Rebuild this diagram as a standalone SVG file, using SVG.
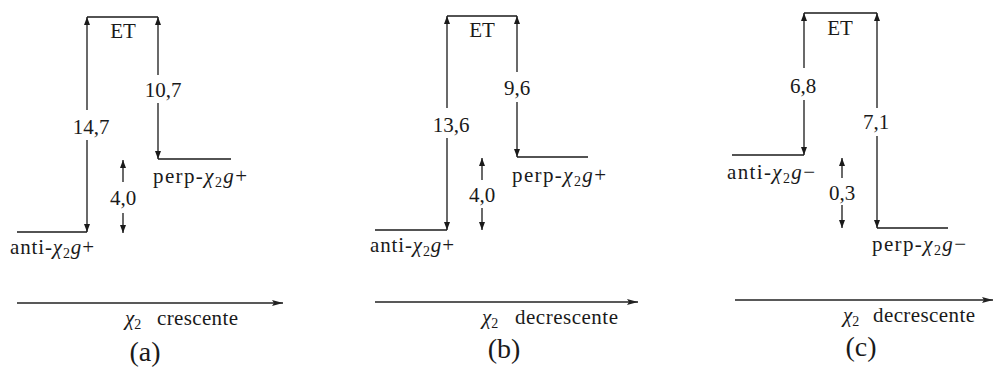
<svg xmlns="http://www.w3.org/2000/svg" width="995" height="367" viewBox="0 0 995 367">
<style>
.ln{stroke:#1a1a1a;stroke-width:1.3;fill:none}
.ar{stroke:#1a1a1a;stroke-width:1.3;fill:none;marker-end:url(#ah)}
.ax{stroke:#222;stroke-width:1.6;fill:none;marker-end:url(#axh)}
.t{font-family:'Liberation Serif','DejaVu Serif',serif;font-size:21px;fill:#1a1a1a}
.m{text-anchor:middle}
.cap{font-size:28px}
.sub{font-size:14px}
.it{font-style:italic}
</style>
<defs>
<marker id="ah" viewBox="0 0 8 6" refX="8" refY="3" markerWidth="8" markerHeight="6" orient="auto" markerUnits="userSpaceOnUse"><path d="M0,0 L8,3 L0,6 z" fill="#1a1a1a"/></marker>
<marker id="axh" viewBox="0 0 11 6" refX="11" refY="3" markerWidth="11" markerHeight="6" orient="auto" markerUnits="userSpaceOnUse"><path d="M0,0 L11,3 L0,6 L2,3 z" fill="#222"/></marker>
</defs>

<!-- Panel (a) -->
<g id="a-ET"><path class="ln" d="M87,17 H158"/><text class="t m" x="123" y="38">ET</text></g>
<g id="a-anti"><path class="ln" d="M17,232 H87"/><text class="t" x="10" y="254" textLength="84" lengthAdjust="spacing">anti-<tspan class="it">χ</tspan><tspan class="sub" dy="4">2</tspan><tspan class="it" dy="-4">g</tspan>+</text></g>
<g id="a-perp"><path class="ln" d="M158,159 H231"/><text class="t" x="153" y="183" textLength="94" lengthAdjust="spacing">perp-<tspan class="it">χ</tspan><tspan class="sub" dy="4">2</tspan><tspan class="it" dy="-4">g</tspan>+</text></g>
<g id="a-connectors">
<path class="ar" d="M87,110 V17"/><path class="ar" d="M87,140 V232"/>
<text class="t m" x="91" y="134">14,7</text>
<path class="ar" d="M158,75 V17"/><path class="ar" d="M158,103 V159"/>
<text class="t m" x="163" y="97">10,7</text>
<path class="ar" d="M123,182 V160"/><path class="ar" d="M123,213 V233"/>
<text class="t m" x="123" y="205">4,0</text>
</g>
<g id="a-axis"><path class="ax" d="M17,303 H283"/>
<text class="t" x="125" y="325"><tspan class="it">χ</tspan><tspan class="sub" dy="4">2</tspan><tspan x="157" dy="-4" textLength="81" lengthAdjust="spacing">crescente</tspan></text>
<text class="t m cap" x="145" y="361">(a)</text></g>

<!-- Panel (b) -->
<g id="b-ET"><path class="ln" d="M447,16 H517"/><text class="t m" x="482" y="37">ET</text></g>
<g id="b-anti"><path class="ln" d="M375,230 H447"/><text class="t" x="370" y="252" textLength="84" lengthAdjust="spacing">anti-<tspan class="it">χ</tspan><tspan class="sub" dy="4">2</tspan><tspan class="it" dy="-4">g</tspan>+</text></g>
<g id="b-perp"><path class="ln" d="M517,157 H588"/><text class="t" x="512" y="182" textLength="94" lengthAdjust="spacing">perp-<tspan class="it">χ</tspan><tspan class="sub" dy="4">2</tspan><tspan class="it" dy="-4">g</tspan>+</text></g>
<g id="b-connectors">
<path class="ar" d="M447,108 V16"/><path class="ar" d="M447,138 V230"/>
<text class="t m" x="451" y="132">13,6</text>
<path class="ar" d="M517,72 V16"/><path class="ar" d="M517,102 V157"/>
<text class="t m" x="517" y="95">9,6</text>
<path class="ar" d="M482,180 V158"/><path class="ar" d="M482,208 V230"/>
<text class="t m" x="482" y="202">4,0</text>
</g>
<g id="b-axis"><path class="ax" d="M375,302 H638"/>
<text class="t" x="482" y="324"><tspan class="it">χ</tspan><tspan class="sub" dy="4">2</tspan><tspan x="515" dy="-4" textLength="103" lengthAdjust="spacing">decrescente</tspan></text>
<text class="t m cap" x="504" y="358">(b)</text></g>

<!-- Panel (c) -->
<g id="c-ET"><path class="ln" d="M804,13 H877"/><text class="t m" x="840" y="35">ET</text></g>
<g id="c-anti"><path class="ln" d="M732,155 H804"/><text class="t" x="727" y="179" textLength="88" lengthAdjust="spacing">anti-<tspan class="it">χ</tspan><tspan class="sub" dy="4">2</tspan><tspan class="it" dy="-4">g</tspan>−</text></g>
<g id="c-perp"><path class="ln" d="M877,228 H948"/><text class="t" x="872" y="251" textLength="94" lengthAdjust="spacing">perp-<tspan class="it">χ</tspan><tspan class="sub" dy="4">2</tspan><tspan class="it" dy="-4">g</tspan>−</text></g>
<g id="c-connectors">
<path class="ar" d="M804,68 V13"/><path class="ar" d="M804,100 V155"/>
<text class="t m" x="803" y="93">6,8</text>
<path class="ar" d="M877,108 V13"/><path class="ar" d="M877,136 V228"/>
<text class="t m" x="876" y="129">7,1</text>
<path class="ar" d="M842,178 V158"/><path class="ar" d="M842,205 V228"/>
<text class="t m" x="842" y="200">0,3</text>
</g>
<g id="c-axis"><path class="ax" d="M735,300 H993"/>
<text class="t" x="843" y="322"><tspan class="it">χ</tspan><tspan class="sub" dy="4">2</tspan><tspan x="873" dy="-4" textLength="102" lengthAdjust="spacing">decrescente</tspan></text>
<text class="t m cap" x="861" y="356">(c)</text></g>
</svg>
